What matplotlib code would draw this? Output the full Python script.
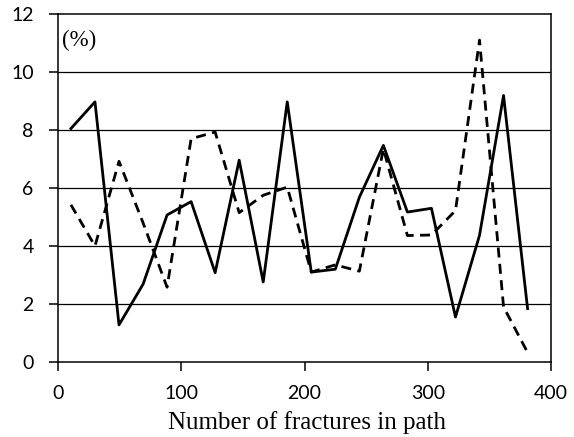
import matplotlib.pyplot as plt

# fracture count bin centres and the two frequency series (%)
n_fractures = [10.5, 30, 49.5, 69, 88.5, 108, 127.5, 147, 166.5, 186,
               205.5, 225, 244.5, 264, 283.5, 303, 322.5, 342, 361.5, 381]
freq_solid = [8.05, 8.97, 1.28, 2.68, 5.07, 5.53, 3.08, 6.96, 2.76, 8.97,
              3.1, 3.2, 5.68, 7.47, 5.17, 5.3, 1.55, 4.37, 9.19, 1.84]
freq_dashed = [5.42, 4.0, 6.92, 4.8, 2.58, 7.7, 7.93, 5.15, 5.75, 6.03,
               3.1, 3.35, 3.13, 7.35, 4.36, 4.38, 5.22, 11.1, 1.9, 0.33]

xticks = [0, 100, 200, 300, 400]
yticks = [0, 2, 4, 6, 8, 10, 12]

W, H = 574, 437
fig = plt.figure(figsize=(W / 100, H / 100), dpi=100)
ax = fig.add_axes([58 / W, 1 - 362 / H, 493 / W, 348 / H])

for y in yticks[1:-1]:
    ax.axhline(y, color='black', lw=0.9, zorder=1)

ax.plot(n_fractures, freq_solid, color='black', lw=2.0, zorder=3)
ax.plot(n_fractures, freq_dashed, color='black', lw=2.0,
        linestyle=(0, (3.6, 2.3)), zorder=3)

ax.set_xlim(0, 400)
ax.set_ylim(0, 12)
ax.set_xticks(xticks)
ax.set_yticks(yticks)
for side in ['left', 'bottom', 'top', 'right']:
    ax.spines[side].set_linewidth(1.1)
ax.tick_params(direction='out', length=6.5, width=1.1, labelsize=14)
ax.tick_params(axis='x', pad=10)
ax.tick_params(axis='y', pad=11)
for lab in ax.get_xticklabels() + ax.get_yticklabels():
    lab.set_fontfamily('Lato')

fig.text(307.5 / W, 1 - 429 / H, 'Number of fractures in path',
         ha='center', va='baseline', fontfamily='Liberation Serif', fontsize=18)
fig.text(62 / W, 1 - 46.5 / H, '(%)', ha='left', va='baseline',
         fontfamily='Liberation Serif', fontsize=16.5)

fig.savefig('out.png', dpi=100)
